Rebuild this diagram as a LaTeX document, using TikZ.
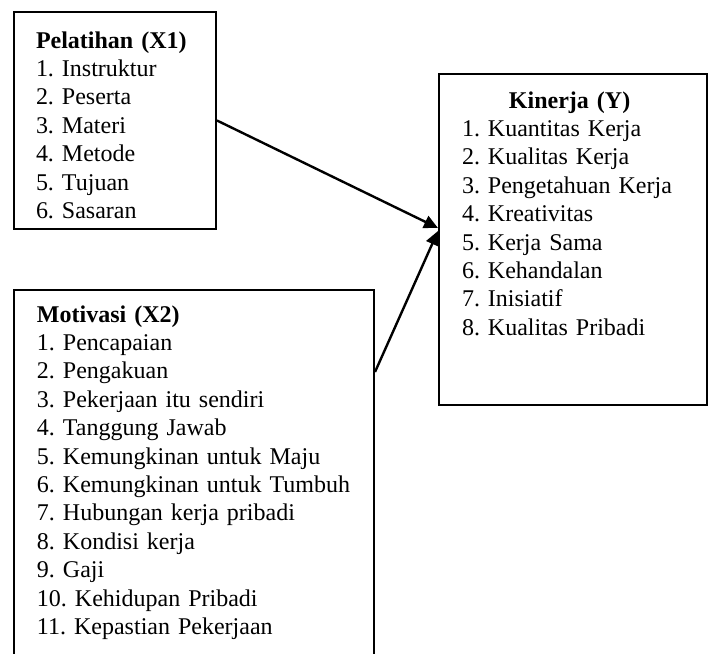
\documentclass[tikz,border=0pt]{standalone}
\usepackage{fontspec}
\setmainfont{Liberation Serif}
\usepackage{xcolor}
\usepackage{tikz}
\usetikzlibrary{arrows.meta, positioning}
\frenchspacing

\begin{document}
\begin{tikzpicture}[
    x=0.5pt, y=-0.5pt,
    varbox/.style={rectangle, draw=black, line width=1pt, anchor=north west, inner xsep=11.5pt, inner ysep=0pt, align=left, font=\fontsize{12}{14.2}\selectfont},
    arrow/.style={-{Triangle[length=7pt, width=6.5pt]}, line width=1.2pt, color=black}
]
\useasboundingbox (0,0) rectangle (709,654);

% Variabel bebas
\node[varbox, inner xsep=11pt, text width=79pt, text height=18pt, text depth=90.5pt] (pel) at (13,11)
  {\textbf{Pelatihan (X1)}\\1. Instruktur\\2. Peserta\\3. Materi\\4. Metode\\5. Tujuan\\6. Sasaran};

\node[varbox, text width=157pt, text height=16pt, text depth=171.5pt] (mot) at (13,289)
  {\textbf{Motivasi (X2)}\\1. Pencapaian\\2. Pengakuan\\3. Pekerjaan itu sendiri\\4. Tanggung Jawab\\5. Kemungkinan untuk Maju\\6. Kemungkinan untuk Tumbuh\\7. Hubungan kerja pribadi\\8. Kondisi kerja\\9. Gaji\\10. Kehidupan Pribadi\\11. Kepastian Pekerjaan};

% Variabel terikat
\node[varbox, text width=111pt, text height=17pt, text depth=148.5pt] (kin) at (438,73)
  {\hspace*{23.5pt}\textbf{Kinerja (Y)}\\1. Kuantitas Kerja\\2. Kualitas Kerja\\3. Pengetahuan Kerja\\4. Kreativitas\\5. Kerja Sama\\6. Kehandalan\\7. Inisiatif\\8. Kualitas Pribadi};

\draw[arrow] (pel.east) -- ([yshift=5.75pt]kin.west);
\draw[arrow] ([yshift=-41.5pt]mot.north east) -- ([yshift=4.25pt]kin.west);

\end{tikzpicture}
\end{document}
